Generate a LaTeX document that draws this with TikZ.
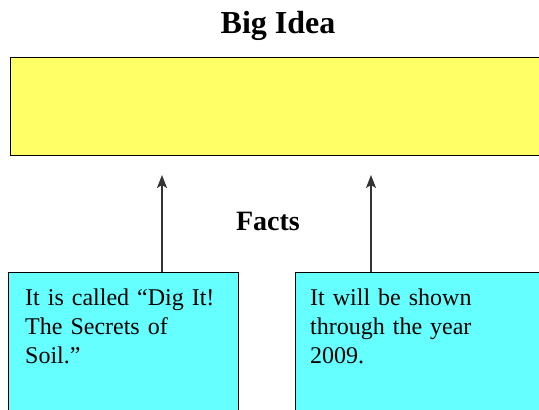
\documentclass[tikz,border=0pt]{standalone}
\usepackage{fontspec}
\setmainfont{Liberation Serif}
\usetikzlibrary{positioning}
\usetikzlibrary{arrows.meta}

\definecolor{ideafill}{HTML}{FFFF66}
\definecolor{factfill}{HTML}{66FFFF}

\tikzset{
	ideabox/.style={draw, line width=1pt, fill=ideafill, minimum width=560pt, minimum height=98pt, inner sep=0pt},
	factbox/.style={draw, line width=1pt, fill=factfill, minimum width=230pt, minimum height=160pt, inner sep=0pt},
	facttext/.style={inner sep=0pt, text width=205pt, align=left, font=\fontsize{24}{29}\selectfont},
	heading/.style={font=\bfseries\fontsize{32}{36}\selectfont},
	uparrow/.style={-{Stealth[length=13pt,width=10pt,inset=3pt]}, line width=1.3pt, black!80}
}

\begin{document}
\begin{tikzpicture}[x=1pt, y=-1pt]
			\useasboundingbox (0, 0) rectangle (539, 410);
			\node at (278, 26) [heading] (title) {Big Idea};
			\node at (10, 57) [ideabox, anchor=north west] (idea) {};
			\node at (268, 221) [heading, font=\bfseries\fontsize{28}{32}\selectfont] (facts) {Facts};
			\node at (8, 272) [factbox, anchor=north west] (fact1) {};
			\node at (295, 272) [factbox, anchor=north west, minimum width=270pt] (fact2) {};
			\node [facttext, below right=17pt and 17pt of fact1.north west] (fact1text) {It is called “Dig It!\\ The Secrets of\\ Soil.”};
			\node [facttext, below right=17pt and 15pt of fact2.north west] (fact2text) {It will be shown\\ through the year\\ 2009.};
			\coordinate (tip1) at (162, 175);
			\coordinate (tip2) at (371, 175);
			\draw [uparrow] (tip1 |- fact1.north) -- (tip1);
			\draw [uparrow] (tip2 |- fact2.north) -- (tip2);
		\end{tikzpicture}
\end{document}
